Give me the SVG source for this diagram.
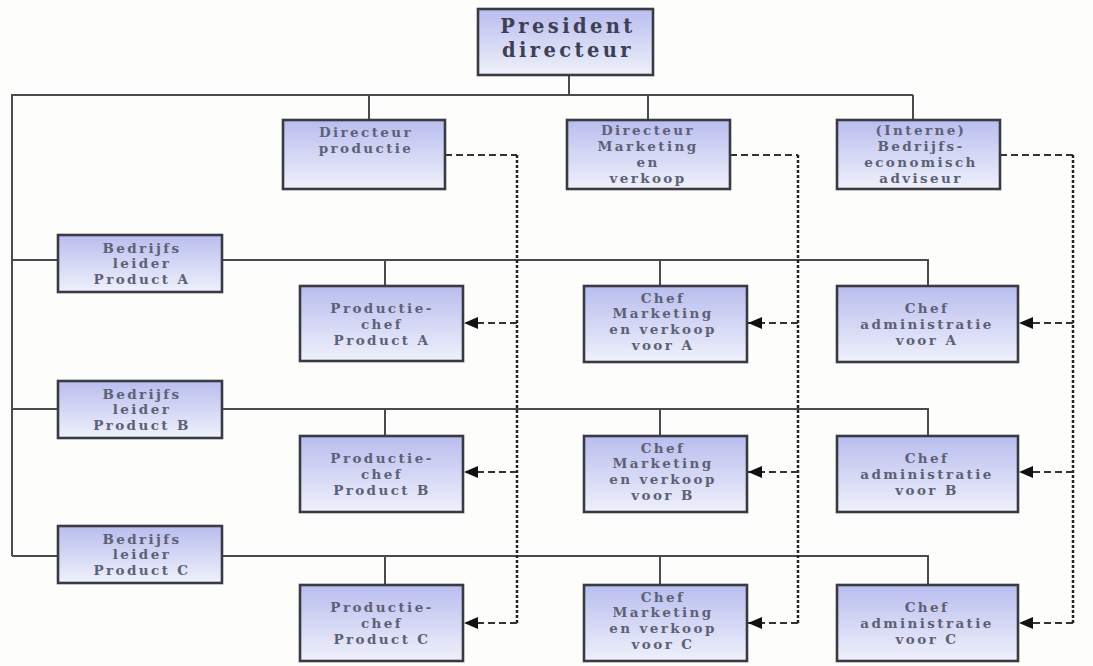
<svg xmlns="http://www.w3.org/2000/svg" width="1093" height="666" viewBox="0 0 1093 666">
  <defs>
    <linearGradient id="boxFill" x1="0" y1="0" x2="0" y2="1">
      <stop offset="0" stop-color="#b9bdee"/>
      <stop offset="1" stop-color="#eff1fb"/>
    </linearGradient>
    <marker id="arrow" viewBox="0 0 14 12" refX="14" refY="6" markerWidth="14" markerHeight="12" markerUnits="userSpaceOnUse" orient="auto">
      <path d="M0,0 L14,6 L0,12 Z" fill="#111"/>
    </marker>
  </defs>
  <style>
    .box { fill: url(#boxFill); stroke: #3a3b42; stroke-width: 2.6; }
    .lbl { font-family: "DejaVu Serif", "Liberation Serif", serif; font-size: 13.5px; font-weight: bold; letter-spacing: 2.4px; fill: #5d6176; text-anchor: middle; }
    .big { font-size: 19.5px; letter-spacing: 3.4px; fill: #3d4054; }
    .solid { fill: none; stroke: #4a4b50; stroke-width: 2; }
    .dash { fill: none; stroke: #333; stroke-width: 2; stroke-dasharray: 7 4; }
    .dot { fill: none; stroke: #222; stroke-width: 2.5; stroke-dasharray: 3 2; }
  </style>
  <rect width="1093" height="666" fill="#fdfefc"/>

  <g id="connectors">
    <!-- solid reporting lines -->
    <path class="solid" d="M569,75 V95"/>
    <path class="solid" d="M12,556 V95 H913"/>
    <path class="solid" d="M369,95 V120 M648,95 V120 M913,95 V120"/>
    <path class="solid" d="M12,260 H928 V286 M385,260 V286 M660,260 V286"/>
    <path class="solid" d="M12,409 H928 V436 M385,409 V436 M660,409 V436"/>
    <path class="solid" d="M12,556 H928 V585 M385,556 V585 M660,556 V585"/>
    <!-- functional (dashed) lines from the directors -->
    <path class="dash" d="M445,155 H517"/>
    <path class="dash" d="M730,155 H798"/>
    <path class="dash" d="M1000,155 H1073"/>
    <path class="dot" d="M517,155 V623"/>
    <path class="dot" d="M798,155 V623"/>
    <path class="dot" d="M1073,155 V623"/>
    <path class="dash" marker-end="url(#arrow)" d="M517,323 H464"/>
    <path class="dash" marker-end="url(#arrow)" d="M517,472 H464"/>
    <path class="dash" marker-end="url(#arrow)" d="M517,623 H464"/>
    <path class="dash" marker-end="url(#arrow)" d="M798,323 H748"/>
    <path class="dash" marker-end="url(#arrow)" d="M798,472 H748"/>
    <path class="dash" marker-end="url(#arrow)" d="M798,623 H748"/>
    <path class="dash" marker-end="url(#arrow)" d="M1073,323 H1019"/>
    <path class="dash" marker-end="url(#arrow)" d="M1073,472 H1019"/>
    <path class="dash" marker-end="url(#arrow)" d="M1073,623 H1019"/>
  </g>

  <g id="president">
    <rect class="box" x="478" y="9" width="175" height="66"/>
    <text class="lbl big" x="568" y="33">President</text>
    <text class="lbl big" x="568" y="57">directeur</text>
  </g>

  <g id="dir-productie">
    <rect class="box" x="283" y="120" width="162" height="69"/>
    <text class="lbl" x="366" y="137">Directeur</text>
    <text class="lbl" x="366" y="153">productie</text>
  </g>
  <g id="dir-marketing">
    <rect class="box" x="567" y="120" width="163" height="69"/>
    <text class="lbl" x="648" y="135">Directeur</text>
    <text class="lbl" x="648" y="151">Marketing</text>
    <text class="lbl" x="648" y="167">en</text>
    <text class="lbl" x="648" y="183">verkoop</text>
  </g>
  <g id="adviseur">
    <rect class="box" x="837" y="120" width="163" height="69"/>
    <text class="lbl" x="921" y="135">(Interne)</text>
    <text class="lbl" x="921" y="151">Bedrijfs-</text>
    <text class="lbl" x="921" y="167">economisch</text>
    <text class="lbl" x="921" y="183">adviseur</text>
  </g>

  <g id="bedrijfsleider-a">
    <rect class="box" x="58" y="235" width="164" height="57"/>
    <text class="lbl" x="142" y="253">Bedrijfs</text>
    <text class="lbl" x="142" y="268">leider</text>
    <text class="lbl" x="142" y="284">Product A</text>
  </g>
  <g id="bedrijfsleider-b">
    <rect class="box" x="58" y="381" width="164" height="57"/>
    <text class="lbl" x="142" y="399">Bedrijfs</text>
    <text class="lbl" x="142" y="414">leider</text>
    <text class="lbl" x="142" y="430">Product B</text>
  </g>
  <g id="bedrijfsleider-c">
    <rect class="box" x="58" y="526" width="164" height="57"/>
    <text class="lbl" x="142" y="544">Bedrijfs</text>
    <text class="lbl" x="142" y="559">leider</text>
    <text class="lbl" x="142" y="575">Product C</text>
  </g>

  <g id="productiechef-a">
    <rect class="box" x="300" y="286" width="163" height="75"/>
    <text class="lbl" x="382" y="313">Productie-</text>
    <text class="lbl" x="382" y="329">chef</text>
    <text class="lbl" x="382" y="345">Product A</text>
  </g>
  <g id="productiechef-b">
    <rect class="box" x="300" y="436" width="163" height="76"/>
    <text class="lbl" x="382" y="463">Productie-</text>
    <text class="lbl" x="382" y="479">chef</text>
    <text class="lbl" x="382" y="495">Product B</text>
  </g>
  <g id="productiechef-c">
    <rect class="box" x="300" y="585" width="163" height="76"/>
    <text class="lbl" x="382" y="612">Productie-</text>
    <text class="lbl" x="382" y="628">chef</text>
    <text class="lbl" x="382" y="644">Product C</text>
  </g>

  <g id="chef-marketing-a">
    <rect class="box" x="584" y="286" width="163" height="76"/>
    <text class="lbl" x="663" y="303">Chef</text>
    <text class="lbl" x="663" y="318">Marketing</text>
    <text class="lbl" x="663" y="334">en verkoop</text>
    <text class="lbl" x="663" y="350">voor A</text>
  </g>
  <g id="chef-marketing-b">
    <rect class="box" x="584" y="436" width="163" height="76"/>
    <text class="lbl" x="663" y="453">Chef</text>
    <text class="lbl" x="663" y="468">Marketing</text>
    <text class="lbl" x="663" y="484">en verkoop</text>
    <text class="lbl" x="663" y="500">voor B</text>
  </g>
  <g id="chef-marketing-c">
    <rect class="box" x="584" y="585" width="163" height="76"/>
    <text class="lbl" x="663" y="602">Chef</text>
    <text class="lbl" x="663" y="617">Marketing</text>
    <text class="lbl" x="663" y="633">en verkoop</text>
    <text class="lbl" x="663" y="649">voor C</text>
  </g>

  <g id="chef-admin-a">
    <rect class="box" x="837" y="286" width="181" height="76"/>
    <text class="lbl" x="927" y="313">Chef</text>
    <text class="lbl" x="927" y="329">administratie</text>
    <text class="lbl" x="927" y="345">voor A</text>
  </g>
  <g id="chef-admin-b">
    <rect class="box" x="837" y="436" width="181" height="76"/>
    <text class="lbl" x="927" y="463">Chef</text>
    <text class="lbl" x="927" y="479">administratie</text>
    <text class="lbl" x="927" y="495">voor B</text>
  </g>
  <g id="chef-admin-c">
    <rect class="box" x="837" y="585" width="181" height="76"/>
    <text class="lbl" x="927" y="612">Chef</text>
    <text class="lbl" x="927" y="628">administratie</text>
    <text class="lbl" x="927" y="644">voor C</text>
  </g>
</svg>
